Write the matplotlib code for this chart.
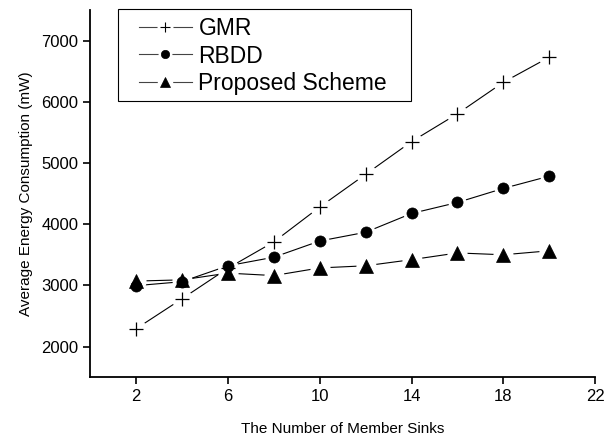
import matplotlib.pyplot as plt
from matplotlib.patches import Rectangle

plt.rcParams['font.family'] = ['Liberation Sans', 'DejaVu Sans']

# Energy consumption vs. number of member sinks
sinks = [2, 4, 6, 8, 10, 12, 14, 16, 18, 20]
gmr = [2290, 2780, 3280, 3710, 4280, 4815, 5350, 5805, 6320, 6730]
rbdd = [2995, 3060, 3320, 3460, 3725, 3868, 4175, 4355, 4585, 4785]
proposed = [3070, 3090, 3200, 3160, 3285, 3320, 3420, 3530, 3500, 3565]

fig = plt.figure(figsize=(6.13, 4.37), dpi=100)
ax = fig.add_axes([0.147, 0.137, 0.824, 0.840])

series = [
    (gmr, '+', 10, 'GMR'),
    (rbdd, 'o', 8, 'RBDD'),
    (proposed, '^', 9.5, 'Proposed Scheme'),
]

for vals, mk, ms, name in series:
    ax.plot(sinks, vals, color='black', lw=0.8, zorder=2)
for vals, mk, ms, name in series:
    # white disc behind each marker leaves a small gap in the line
    ax.plot(sinks, vals, ls='none', marker='o', ms=ms + 5, mfc='white',
            mec='none', zorder=3)
for vals, mk, ms, name in series:
    ax.plot(sinks, vals, ls='none', marker=mk, ms=ms, color='black',
            mew=0.9 if mk == '+' else 0.5, zorder=4)

# legend entries: line, white gap disc and marker stacked on each other
handles = []
for vals, mk, ms, name in series:
    ln = plt.Line2D([], [], color='#444444', lw=0.8)
    gap = plt.Line2D([], [], ls='none', marker='o', ms=ms * 0.75 + 4,
                     mfc='white', mec='none')
    dot = plt.Line2D([], [], ls='none', marker=mk, ms=ms * 0.75, color='black',
                     mew=0.8 if mk == '+' else 0.5)
    handles.append((ln, gap, dot))
leg = ax.legend(handles, [s[3] for s in series], loc='upper left',
                bbox_to_anchor=(0.083, 1.0), fontsize=16.5, frameon=False,
                handlelength=2.3, handletextpad=0.3, borderpad=0.3,
                labelspacing=0.2, borderaxespad=0.0)

# legend box drawn separately so it can be wider than the entries
ax.add_patch(Rectangle((0.0554, 0.752), 0.579, 0.25, transform=ax.transAxes,
                       fill=False, ec='black', lw=0.8, clip_on=False, zorder=5))

ax.set_xlim(0, 22)
ax.set_ylim(1500, 7500)
ax.set_xticks([2, 6, 10, 14, 18, 22])
ax.set_yticks([2000, 3000, 4000, 5000, 6000, 7000])
ax.spines['top'].set_visible(False)
ax.spines['right'].set_visible(False)
ax.spines['left'].set_linewidth(1.3)
ax.spines['bottom'].set_linewidth(1.3)
ax.tick_params(direction='out', length=5, width=1.2, labelsize=12)

ax.set_xlabel('The Number of Member Sinks', fontsize=11, labelpad=13)
ax.set_ylabel('Average Energy Consumption (mW)', fontsize=11, labelpad=6)

fig.savefig('out.png', dpi=100)
